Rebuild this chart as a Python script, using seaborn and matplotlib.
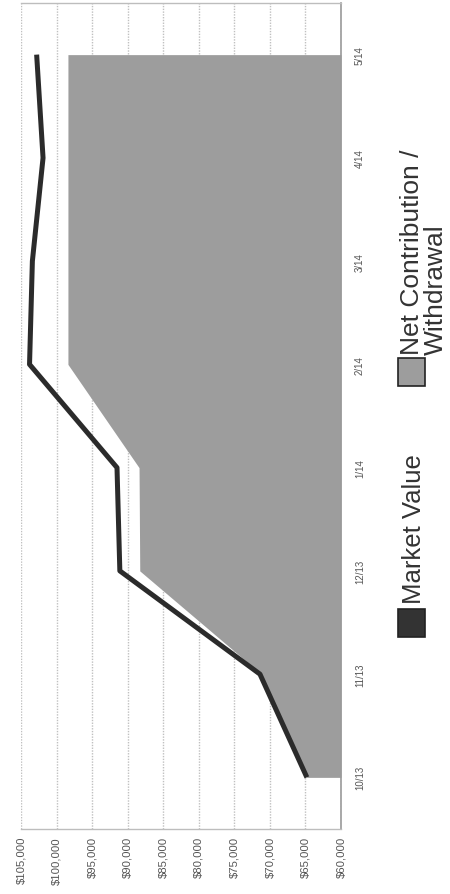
import numpy as np
import pandas as pd
import matplotlib
matplotlib.use("Agg")
import matplotlib.pyplot as plt
import seaborn as sns
from matplotlib.patches import Rectangle
from matplotlib.ticker import FuncFormatter

# data
meses = ['10/13', '11/13', '12/13', '1/14', '2/14', '3/14', '4/14', '5/14']
valor_mercado = [64800, 71400, 91100, 91500, 103800, 103400, 101900, 102800]
contribuicao_liq = [64800, 71200, 88300, 88400, 98400, 98400, 98400, 98400]
ticks_valor = [60000, 65000, 70000, 75000, 80000, 85000, 90000, 95000, 100000, 105000]

df = pd.DataFrame({'mes': meses, 'pos': np.arange(len(meses)),
                   'mercado': valor_mercado, 'liquido': contribuicao_liq})

sns.set_theme(style='white')
plt.rcParams['font.family'] = ['Liberation Sans', 'DejaVu Sans']

fig = plt.figure(figsize=(4.5, 8.95), dpi=100)
ax = fig.add_axes([21 / 450, 65 / 895, 320 / 450, 826 / 895])

# area (net contribution) – chart is drawn rotated 90 degrees
ax.fill_betweenx(df['pos'], 60000, df['liquido'], color='#9d9d9d', lw=0, zorder=2)
sns.lineplot(data=df, x='mercado', y='pos', orient='y', sort=False, ax=ax,
             color='#2b2b2b', lw=3.6, zorder=3, solid_capstyle='butt')

ax.set_xlim(105000, 60000)
ax.set_ylim(-0.5, len(meses) - 0.5)
ax.set_xticks(ticks_valor)
ax.xaxis.set_major_formatter(FuncFormatter(lambda v, p: f'${v:,.0f}'))
ax.tick_params(axis='x', labelrotation=90, labelsize=8.2, pad=5, length=0, labelcolor='#555555')
ax.set_yticks(df['pos'])
ax.set_yticklabels(meses)
ax.yaxis.tick_right()
ax.tick_params(axis='y', labelrotation=90, labelsize=7, pad=10, length=0, labelcolor='#555555')
for lab in ax.get_yticklabels():
    lab.set_va('center')
ax.set_xlabel('')
ax.set_ylabel('')

ax.grid(axis='x', color='#c0c0c0', lw=1.0, ls=(0, (1, 1)), zorder=1)
ax.grid(axis='y', visible=False)
for s in ['top', 'bottom']:
    ax.spines[s].set_color('#bdbdbd')
    ax.spines[s].set_linewidth(1.0)
ax.spines['right'].set_color('#9a9a9a')
ax.spines['right'].set_linewidth(1.2)
ax.spines['left'].set_visible(False)

# legend (rotated)
fig.patches.append(Rectangle((398 / 450, (895 - 638) / 895), 27 / 450, 28 / 895,
                             transform=fig.transFigure, facecolor='#333333',
                             edgecolor='#222222', lw=1.2))
fig.text(414 / 450, (895 - 604) / 895, 'Market Value', rotation=90, ha='center',
         va='bottom', fontsize=18.5, color='#333333')
fig.patches.append(Rectangle((398 / 450, (895 - 387) / 895), 27 / 450, 28 / 895,
                             transform=fig.transFigure, facecolor='#9d9d9d',
                             edgecolor='#222222', lw=1.2))
fig.text(424 / 450, (895 - 355) / 895, 'Net Contribution /\nWithdrawal', rotation=90,
         ha='center', va='bottom', multialignment='left', linespacing=1.0,
         fontsize=19, color='#333333')

fig.savefig('out.png', dpi=100)
